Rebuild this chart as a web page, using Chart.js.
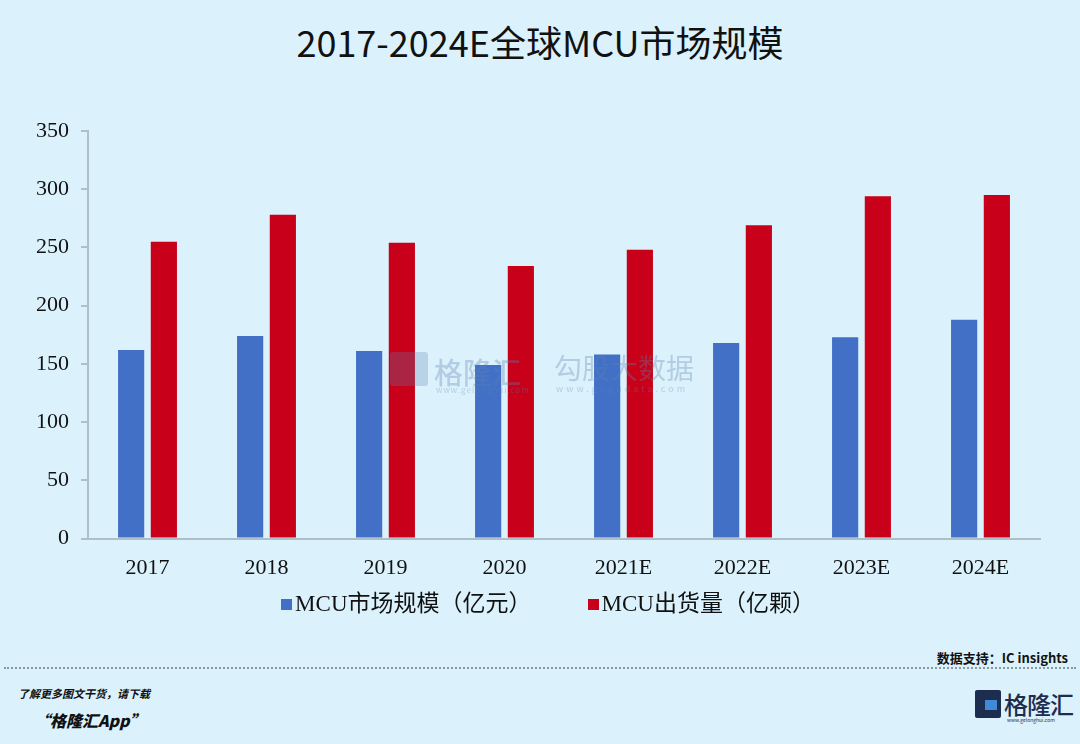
<!DOCTYPE html>
<html>
<head>
<meta charset="utf-8">
<script src="https://cdn.jsdelivr.net/npm/chart.js@4.4.1/dist/chart.umd.min.js"></script>
<style>
  html, body { margin: 0; padding: 0; }
  body { width: 1080px; height: 744px; background: #dbf2fc; position: relative; overflow: hidden; font-family: "Noto Sans CJK SC", sans-serif; }
  #wrap { position: absolute; left: 0; top: 0; width: 1080px; height: 609px; }
  h1 { position: absolute; left: 0; top: 20px; width: 1080px; margin: 0; text-align: center; font: 400 36px/43px "Noto Sans CJK SC", sans-serif; color: #111; }
  .legend { position: absolute; top: 590px; left: 8px; width: 1080px; display: flex; justify-content: center; gap: 56px; font: 23px "Liberation Serif", "Noto Sans CJK SC", serif; color: #111; line-height: 28px; }
  .legend span.box { display: inline-block; width: 11px; height: 11px; margin-right: 3px; vertical-align: 1px; }
  .wm { position: absolute; pointer-events: none; color: rgba(95, 130, 175, 0.33); }
  .foot { position: absolute; color: #111; }
  .dots { position: absolute; left: 4px; right: 4px; top: 667px; border-top: 2px dotted #8a99a3; }
</style>
</head>
<body>
<h1>2017-2024E全球MCU市场规模</h1>
<div id="wrap"><canvas id="myChart"></canvas></div>

<div class="legend" id="legend"></div>

<!-- watermarks -->
<div class="wm" style="left:390px;top:352px;width:38px;height:34px;background:rgba(95,130,175,0.28);border-radius:3px"></div>
<div class="wm" style="left:434px;top:350px;font-size:29px;font-weight:500">格隆汇</div>
<div class="wm" style="left:436px;top:384px;font-size:8px;letter-spacing:1px">www.gelonghui.com</div>
<div class="wm" style="left:554px;top:347px;font-size:28px">勾股大数据</div>
<div class="wm" style="left:556px;top:382px;font-size:9px;letter-spacing:3px">www.gogudata.com</div>

<div class="dots"></div>
<div class="foot" style="right:12px;top:648px;font-size:13px;font-weight:700">数据支持：IC insights</div>
<div class="foot" style="left:18px;top:685px;font-size:11px;font-weight:700;font-style:italic">了解更多图文干货，请下载</div>
<div class="foot" style="left:34px;top:708px;font-size:16px;font-weight:900;font-style:italic">“格隆汇App”</div>
<div class="foot" style="left:975px;top:690px;width:26px;height:28px;background:#1d2d4f;border-radius:2px"></div>
<div class="foot" style="left:985px;top:700px;width:12px;height:10px;background:#3f8ad6"></div>
<div class="foot" style="left:1004px;top:686px;font-size:24px;font-weight:500;color:#1d2d4f;letter-spacing:-1px">格隆汇</div>
<div class="foot" style="left:1007px;top:716px;font-size:5px;color:#1d2d4f">www.gelonghui.com</div>

<script>
var years = ["2017", "2018", "2019", "2020", "2021E", "2022E", "2023E", "2024E"];
var marketSize = [162, 174, 161, 149, 158, 168, 173, 188];   // 亿元
var shipments = [255, 278, 254, 234, 248, 269, 294, 295];    // 亿颗
var seriesNames = ["MCU市场规模（亿元）", "MCU出货量（亿颗）"];
var barColors = ["#4270c6", "#c8001a"];
var axisColor = "#aebfca";

new Chart("myChart", {
  type: "bar",
  data: {
    labels: years,
    datasets: [{
      label: seriesNames[0],
      backgroundColor: barColors[0],
      data: marketSize
    }, {
      label: seriesNames[1],
      backgroundColor: barColors[1],
      data: shipments
    }]
  },
  options: {
    responsive: true,
    maintainAspectRatio: false,
    animation: false,
    categoryPercentage: 0.55,
    barPercentage: 0.8,
    layout: { padding: { left: 0, right: 40, top: 131, bottom: 12 } },
    plugins: {
      legend: { display: false },
      tooltip: { enabled: false },
      title: { display: false }
    },
    scales: {
      x: {
        grid: { display: true, drawOnChartArea: false, drawTicks: false },
        border: { display: true, color: axisColor, width: 2 },
        ticks: { color: "#111", padding: 16, font: { family: "'Liberation Serif', serif", size: 22 } }
      },
      y: {
        min: 0,
        max: 350,
        afterFit: function (s) { s.width = 88; },
        grid: { display: true, drawOnChartArea: false, tickLength: 7, color: axisColor, lineWidth: 2 },
        border: { display: true, color: axisColor, width: 2 },
        ticks: { stepSize: 50, color: "#111", padding: 12, font: { family: "'Liberation Serif', serif", size: 22 } }
      }
    }
  }
});

// legend below the chart, built from the same series arrays
var lg = document.getElementById("legend");
seriesNames.forEach(function (name, i) {
  var item = document.createElement("div");
  item.innerHTML = '<span class="box" style="background:' + barColors[i] + '"></span>' + name;
  lg.appendChild(item);
});
</script>
</body>
</html>
